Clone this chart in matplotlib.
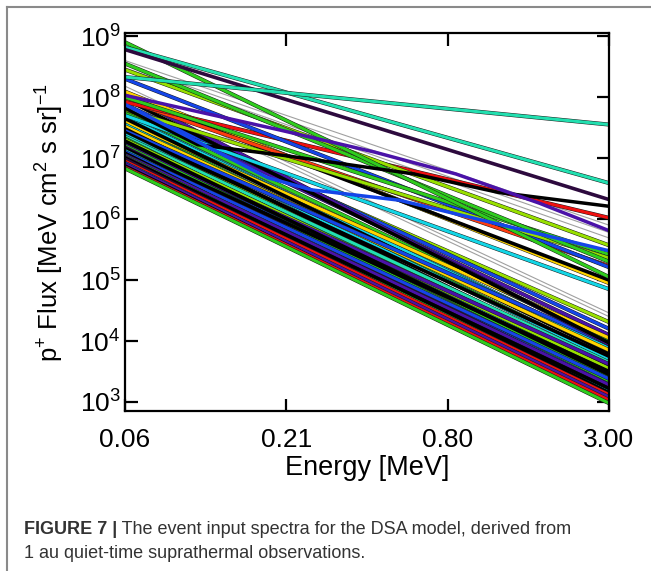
import numpy as np
import matplotlib
matplotlib.use('Agg')
import matplotlib.pyplot as plt
from matplotlib.lines import Line2D
from matplotlib.ticker import NullLocator
import matplotlib.patheffects as pe
from matplotlib import font_manager

installed = {f.name for f in font_manager.fontManager.ttflist}
narrow = 'Liberation Sans Narrow' if 'Liberation Sans Narrow' in installed else 'Liberation Sans'

plt.rcParams['font.family'] = ['Liberation Sans', 'DejaVu Sans']
plt.rcParams['mathtext.default'] = 'regular'

# colours used for the spectra
BLK = '#000000'
DPU = '#2d0a3e'
PUR = '#4a12a8'
BLU = '#1545e8'
CYA = '#14d6e6'
TEA = '#22e0b0'
GRN = '#2fcc1e'
YGR = '#98e000'
YEL = '#ffd400'
RED = '#ee1010'
ORG = '#ff3c10'
GRY = '#a0a0a0'

energy_ticks = [0.06, 0.21, 0.80, 3.00]
energy_labels = ['0.06', '0.21', '0.80', '3.00']

# single power-law spectra: log10 flux at 0.06 MeV and at 3.00 MeV
lo_log = [
    8.60, 8.54, 8.48, 8.18, 8.12,                  # thin grey
    7.70, 7.76, 7.80, 7.85, 7.88, 7.40, 7.58, 7.68, 7.46, 7.36,
    7.60, 7.65, 7.55, 7.52, 7.48, 7.45, 7.42, 7.38, 7.35, 7.32,
    7.30, 7.26, 7.25, 7.22, 7.20, 7.18, 7.14, 7.15, 7.12, 7.10,
    7.08, 7.05, 7.03, 7.02, 7.00, 6.98, 6.95, 6.92, 6.90, 6.87,
    6.85, 6.83, 7.28, 8.05, 7.97,
    8.09, 8.02, 7.70, 7.95, 7.92, 8.30, 8.45, 8.00, 7.80, 8.55,
    8.90, 8.82, 8.78, 8.33,
]
hi_log = [
    5.90, 5.78, 5.69, 4.46, 4.40,
    3.90, 4.00, 4.31, 4.10, 4.20, 3.58, 3.72, 3.88, 3.52, 3.44,
    4.05, 3.80, 3.70, 3.85, 3.60, 3.95, 3.75, 3.50, 3.65, 3.40,
    3.55, 3.32, 3.30, 3.62, 3.35, 3.25, 3.18, 3.50, 3.20, 3.38,
    3.15, 3.28, 3.10, 3.06, 3.22, 3.05, 3.12, 3.02, 3.08, 3.00,
    3.03, 2.98, 3.45, 3.95, 3.97,
    4.95, 5.00, 4.85, 5.23, 6.02, 5.21, 5.57, 5.42, 5.36, 5.30,
    5.05, 6.59, 6.32, 7.55,
]
line_colors = [
    GRY, GRY, GRY, GRY, GRY,
    CYA, GRN, YGR, PUR, BLU, YEL, GRN, CYA, YGR, CYA,
    YEL, BLK, CYA, YEL, BLK, BLU, BLK, CYA, TEA, GRN,
    YGR, GRN, BLU, PUR, GRN, DPU, BLU, BLK, CYA, BLU,
    BLK, PUR, GRN, DPU, BLK, DPU, RED, BLU, PUR, BLK,
    RED, GRN, BLK, PUR, BLK,
    YEL, BLK, CYA, ORG, RED, BLU, YGR, GRN, YGR, GRN,
    GRN, TEA, DPU, TEA,
]

# broken spectra: energies and log10 flux at each node
broken_e = [
    [0.06, 0.108, 0.22, 0.62, 1.22, 3.00],
    [0.06, 0.19, 0.27, 0.55, 3.00],
    [0.06, 0.21, 0.45, 0.87, 1.71, 3.00],
]
broken_log = [
    [7.82, 7.22, 7.04, 6.74, 6.44, 6.21],
    [7.88, 6.68, 6.48, 6.31, 5.48],
    [8.03, 7.46, 7.10, 6.74, 6.26, 5.81],
]
broken_colors = [BLK, BLU, PUR]

fig = plt.figure(figsize=(6.51, 5.71), dpi=100)
ax = fig.add_axes([0.192, 0.280, 0.7435, 0.662])
ax.set_xscale('log')
ax.set_yscale('log')

e_ends = [energy_ticks[0], energy_ticks[-1]]
outline = [pe.Stroke(linewidth=2.9, foreground='#1a1a1a'), pe.Normal()]
for lo, hi, c in zip(lo_log, hi_log, line_colors):
    flux = [10 ** lo, 10 ** hi]
    if c == GRY:
        ax.plot(e_ends, flux, color=c, lw=0.8, zorder=1)
    elif c in (BLK, DPU):
        ax.plot(e_ends, flux, color=c, lw=2.6, zorder=2)
    else:
        ax.plot(e_ends, flux, color=c, lw=2.2, zorder=2, path_effects=outline)

for es, ls, c in zip(broken_e, broken_log, broken_colors):
    ax.plot(es, 10 ** np.array(ls), color=c, lw=2.5, zorder=2)

ax.set_xlim(energy_ticks[0], energy_ticks[-1])
ax.set_ylim(10 ** 2.85, 10 ** 9.05)
ax.set_xticks(np.geomspace(0.06, 3.0, 4))
ax.set_xticklabels(energy_labels)
ax.xaxis.set_minor_locator(NullLocator())
ax.set_yticks([1e3, 1e4, 1e5, 1e6, 1e7, 1e8, 1e9])
ax.yaxis.set_minor_locator(NullLocator())
ax.tick_params(direction='in', length=9, width=1.6, labelsize=19,
               top=True, right=True)
ax.tick_params(axis='x', pad=12)
ax.tick_params(axis='y', pad=3)
for s in ax.spines.values():
    s.set_linewidth(1.6)

ax.set_xlabel('Energy [MeV]', fontsize=19.5, labelpad=2)
fig.text(50 / 651, 0.611, r'p$^{+}$ Flux [MeV cm$^{2}$ s sr]$^{-1}$',
         rotation=90, ha='center', va='center', fontsize=18.5)

# caption box edges
fig.add_artist(Line2D([7 / 651, 1], [1 - 6.5 / 571] * 2, color='#8a8a8a', lw=1.5))
fig.add_artist(Line2D([7 / 651] * 2, [0, 1 - 6.5 / 571], color='#8a8a8a', lw=1.5))

cap_font = [narrow, 'DejaVu Sans']
cap = fig.text(24 / 651, 1 - 534 / 571, 'FIGURE 7 |', fontsize=13,
               fontweight='bold', family=cap_font, color='#333333')
ax.annotate(' The event input spectra for the DSA model, derived from',
            xy=(1, 0), xycoords=cap, ha='left', va='bottom',
            fontsize=13, family=cap_font, color='#333333',
            annotation_clip=False)
fig.text(24 / 651, 1 - 558 / 571, '1 au quiet-time suprathermal observations.',
         fontsize=13, family=cap_font, color='#333333')

fig.savefig('out.png', dpi=100)
